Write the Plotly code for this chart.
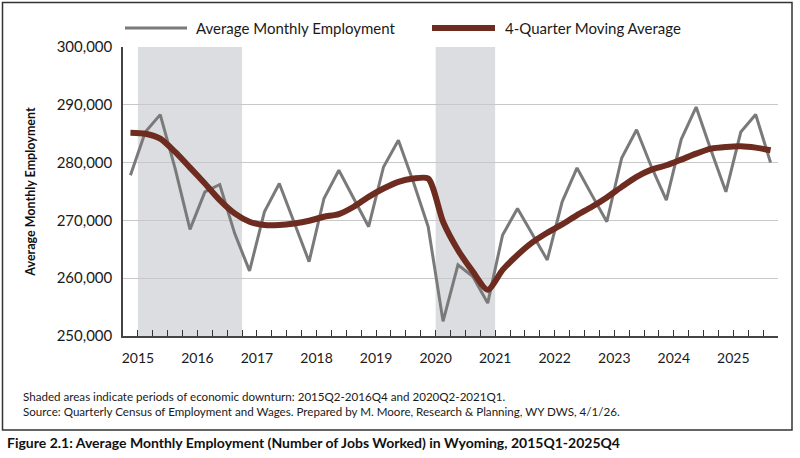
import numpy as np
import plotly.graph_objects as go

# ---------------- data ----------------
years = list(range(2015, 2026))
quarters = [f"{y}Q{q}" for y in years for q in (1, 2, 3, 4)]

avg_monthly_employment = [
    277800, 285300, 288300, 279000,
    268450, 274940, 276210, 267760,
    261260, 271490, 276380, 269600,
    262870, 273800, 278680, 273800,
    268910, 279250, 283850, 276670,
    268910, 252530, 262300, 260290,
    255690, 267470, 272070, 267600,
    263160, 273220, 279080, 274370,
    269770, 280800, 285690, 279250,
    273510, 284020, 289600, 282130,
    274940, 285290, 288330, 280000,
]

moving_avg_4q = [
    285170, 285000, 284140, 281840,
    279140, 276380, 273510, 271210,
    269770, 269200, 269200, 269480,
    269940, 270630, 271090, 272360,
    274080, 275520, 276670, 277240,
    277240, 269770, 264890, 261150,
    257990, 261440, 264020, 266200,
    267870, 269310, 270920, 272360,
    273970, 275800, 277530, 278790,
    279540, 280520, 281550, 282410,
    282700, 282820, 282590, 282130,
]

downturns = [("2015Q2", "2016Q4"), ("2020Q2", "2021Q1")]

y_ticks = [250000, 260000, 270000, 280000, 290000, 300000]

series_names = ["Average Monthly Employment", "4-Quarter Moving Average"]
series_colors = ["#7a7a7a", "#6e2b1f"]
series_widths = [3, 6]

# ---------------- layout geometry ----------------
W, H = 800, 458
L, R, T, B = 123, 22, 47, 122
PW, PH = W - L - R, H - T - B


def px2x(px):
    return (px - L) / PW


def px2y(py):
    return (H - B - py) / PH


FONT = "Lato, Calibri, Carlito, sans-serif"

xi = np.arange(len(quarters))

fig = go.Figure()
fig.add_trace(go.Scatter(
    x=xi, y=avg_monthly_employment, mode="lines",
    name=series_names[0],
    line=dict(color=series_colors[0], width=series_widths[0]),
    text=quarters, hovertemplate="%{text}: %{y:,}<extra></extra>",
))
fig.add_trace(go.Scatter(
    x=xi, y=moving_avg_4q, mode="lines",
    name=series_names[1],
    line=dict(color=series_colors[1], width=series_widths[1], shape="spline", smoothing=0.7),
    text=quarters, hovertemplate="%{text}: %{y:,}<extra></extra>",
))

shapes = []
for a, b in downturns:
    i0, i1 = quarters.index(a), quarters.index(b)
    shapes.append(dict(type="rect", xref="x", yref="y",
                       x0=i0 - 0.5, x1=i1 + 0.5, y0=y_ticks[0], y1=y_ticks[-1],
                       fillcolor="#dcdde0", line=dict(width=0), layer="below"))
# outer frame
shapes.append(dict(type="rect", xref="paper", yref="paper",
                   x0=px2x(2.5), x1=px2x(792), y0=px2y(2.5), y1=px2y(430),
                   line=dict(color="#333333", width=1.5), fillcolor="rgba(0,0,0,0)",
                   layer="above"))

# legend (drawn at the top, like the original)
legend_sample_px = [(125, 187), (432, 495)]
legend_text_px = [194, 503]
LEG_Y = 28
annotations = []
for name, col, wdt, (s0, s1), tx in zip(series_names, series_colors, series_widths,
                                        legend_sample_px, legend_text_px):
    shapes.append(dict(type="line", xref="paper", yref="paper",
                       x0=px2x(s0), x1=px2x(s1), y0=px2y(LEG_Y), y1=px2y(LEG_Y),
                       line=dict(color=col, width=wdt)))
    annotations.append(dict(text=name, xref="paper", yref="paper",
                            x=px2x(tx), y=px2y(LEG_Y), xanchor="left", yanchor="middle",
                            showarrow=False,
                            font=dict(family=FONT, size=15, color="#1a1a1a")))

year_pos = [quarters.index(f"{y}Q1") + 0.5 for y in years]

annotations += [
    dict(text="Shaded areas indicate periods of economic downturn: 2015Q2-2016Q4 and 2020Q2-2021Q1."
              "<br>Source: Quarterly Census of Employment and Wages. Prepared by M. Moore, Research &amp; Planning, WY DWS, 4/1/26.",
         xref="paper", yref="paper", x=px2x(21), y=px2y(404), xanchor="left", yanchor="middle",
         align="left", showarrow=False,
         font=dict(family=FONT, size=11.6, color="#1a1a1a")),
    dict(text="<b>Figure 2.1: Average Monthly Employment (Number of Jobs Worked) in Wyoming, 2015Q1-2025Q4</b>",
         xref="paper", yref="paper", x=px2x(5), y=px2y(442), xanchor="left", yanchor="middle",
         showarrow=False, font=dict(family=FONT, size=14, color="#111111")),
]

fig.update_layout(
    width=W, height=H,
    margin=dict(l=L, r=R, t=T, b=B, pad=0),
    paper_bgcolor="white", plot_bgcolor="white",
    font=dict(family=FONT, color="#1a1a1a"),
    showlegend=False,
    shapes=shapes,
    annotations=annotations,
    hovermode="closest",
)

fig.update_xaxes(
    range=[-0.5, len(quarters) - 0.5],
    tickmode="array", tickvals=year_pos, ticktext=[str(y) for y in years],
    ticks="inside", ticklen=6, tickcolor="#333333", tickwidth=1,
    minor=dict(tickmode="linear", tick0=0.5, dtick=1, ticks="inside",
               ticklen=6, tickcolor="#333333", tickwidth=1, showgrid=False),
    showgrid=False, zeroline=False,
    showline=True, linecolor="#444444", linewidth=1.5,
    tickfont=dict(family=FONT, size=14, color="#1a1a1a"),
    ticklabelstandoff=8,
)
fig.update_yaxes(
    range=[y_ticks[0], y_ticks[-1]],
    tickmode="array", tickvals=y_ticks, ticktext=[f"{v:,}" for v in y_ticks],
    ticks="", showgrid=True, gridcolor="#c8c8c8", gridwidth=1,
    zeroline=False, showline=True, linecolor="#444444", linewidth=1.5,
    tickfont=dict(family=FONT, size=15, color="#1a1a1a"),
    ticklabelstandoff=6,
    title=dict(text="<b>Average Monthly Employment</b>", standoff=18,
               font=dict(family=FONT, size=12.5, color="#111111")),
)

fig.write_html("out.html")
